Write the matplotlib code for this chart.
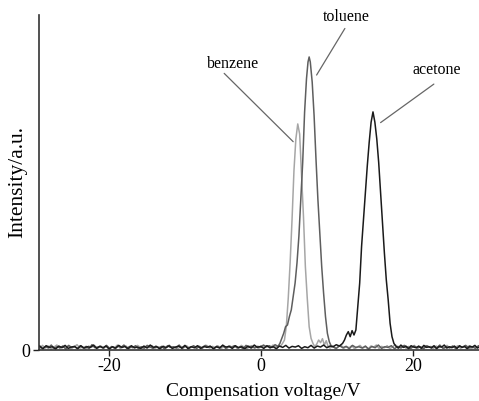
import numpy as np
import matplotlib
matplotlib.use("Agg")
import matplotlib.pyplot as plt

plt.rcParams['font.family'] = ['Liberation Serif', 'DejaVu Serif']

# --- data (compensation voltage in V, intensity in a.u.) ---
# benzene
benzene_base_left = [0.010, 0.004, 0.014, 0.006, 0.012, 0.003, 0.009, 0.015, 0.005, 0.011,
                     0.007, 0.013, 0.004, 0.010, 0.016, 0.006, 0.009, 0.003, 0.012, 0.008,
                     0.014, 0.005, 0.010, 0.006, 0.013, 0.004, 0.011, 0.007, 0.015, 0.005,
                     0.009, 0.012, 0.004, 0.010, 0.006, 0.014, 0.008, 0.003, 0.011, 0.007,
                     0.013, 0.005, 0.010, 0.004, 0.012, 0.008, 0.015, 0.006, 0.009, 0.004,
                     0.011, 0.007, 0.013, 0.005, 0.010, 0.006, 0.012, 0.004, 0.009, 0.014,
                     0.006, 0.011, 0.008, 0.012, 0.005, 0.010, 0.004, 0.013, 0.007, 0.011,
                     0.006, 0.014, 0.009, 0.004, 0.012, 0.007, 0.010, 0.005, 0.013, 0.008,
                     0.011, 0.006, 0.015, 0.009, 0.012]
benzene_peak_x = [2.6, 2.85, 3.1, 3.35, 3.6, 3.85, 4.1, 4.35, 4.6, 4.85,
                  5.1, 5.35, 5.6, 5.85, 6.1, 6.35, 6.6, 6.85, 7.1, 7.35,
                  7.6, 7.85, 8.1, 8.35, 8.6, 8.85]
benzene_peak_y = [0.012, 0.020, 0.030, 0.072, 0.155, 0.262, 0.390, 0.535, 0.630, 0.675,
                  0.645, 0.520, 0.400, 0.250, 0.155, 0.070, 0.035, 0.020, 0.010, 0.018,
                  0.030, 0.022, 0.034, 0.015, 0.028, 0.010]
benzene_base_right = [0.006, 0.012, 0.004, 0.010, 0.015, 0.005, 0.011, 0.007, 0.013, 0.004,
                      0.009, 0.014, 0.006, 0.010, 0.003, 0.012, 0.008, 0.015, 0.005, 0.011,
                      0.007, 0.013, 0.004, 0.010, 0.016, 0.006, 0.009, 0.012, 0.005, 0.011,
                      0.007, 0.014, 0.004, 0.010, 0.006, 0.013, 0.008, 0.011, 0.005, 0.012,
                      0.007, 0.010, 0.004, 0.014, 0.006, 0.011, 0.008, 0.013, 0.005, 0.010,
                      0.007, 0.012, 0.004, 0.011, 0.009, 0.014, 0.006, 0.012]

# toluene
toluene_base_left = [0.008, 0.013, 0.004, 0.011, 0.006, 0.015, 0.005, 0.010, 0.007, 0.012,
                     0.003, 0.014, 0.008, 0.010, 0.005, 0.013, 0.006, 0.011, 0.004, 0.016,
                     0.007, 0.009, 0.012, 0.005, 0.014, 0.006, 0.010, 0.004, 0.012, 0.008,
                     0.015, 0.005, 0.011, 0.007, 0.013, 0.004, 0.010, 0.006, 0.014, 0.009,
                     0.005, 0.012, 0.007, 0.011, 0.003, 0.013, 0.008, 0.010, 0.006, 0.015,
                     0.004, 0.012, 0.007, 0.009, 0.013, 0.005, 0.011, 0.006, 0.014, 0.008,
                     0.010, 0.004, 0.012, 0.007, 0.015, 0.005, 0.011, 0.009, 0.013, 0.006,
                     0.010, 0.004, 0.014, 0.008, 0.012, 0.006, 0.011, 0.009, 0.015, 0.010,
                     0.013, 0.008, 0.016, 0.011]
toluene_peak_x = [2.5, 2.75, 3.0, 3.25, 3.5, 3.75, 4.0, 4.25, 4.5, 4.75,
                  5.0, 5.25, 5.5, 5.75, 6.0, 6.2, 6.35, 6.5, 6.75, 7.0,
                  7.25, 7.5, 7.75, 8.0, 8.25, 8.5, 8.75, 9.0, 9.25]
toluene_peak_y = [0.020, 0.035, 0.050, 0.070, 0.075, 0.100, 0.120, 0.160, 0.200, 0.260,
                  0.340, 0.450, 0.560, 0.710, 0.810, 0.860, 0.875, 0.860, 0.800, 0.700,
                  0.570, 0.450, 0.350, 0.250, 0.170, 0.100, 0.050, 0.025, 0.012]
toluene_base_right = [0.010, 0.005, 0.013, 0.007, 0.011, 0.004, 0.014, 0.008, 0.010, 0.006,
                      0.012, 0.003, 0.011, 0.007, 0.015, 0.005, 0.010, 0.008, 0.013, 0.004,
                      0.011, 0.006, 0.014, 0.009, 0.005, 0.012, 0.007, 0.010, 0.004, 0.013,
                      0.008, 0.011, 0.006, 0.015, 0.005, 0.010, 0.007, 0.012, 0.004, 0.011,
                      0.009, 0.014, 0.006, 0.010, 0.005, 0.013, 0.008, 0.011]

# acetone
acetone_base_left = [0.006, 0.011, 0.004, 0.013, 0.008, 0.010, 0.003, 0.012, 0.007, 0.014,
                     0.005, 0.009, 0.011, 0.004, 0.013, 0.006, 0.010, 0.008, 0.015, 0.005,
                     0.011, 0.007, 0.012, 0.003, 0.010, 0.006, 0.014, 0.008, 0.011, 0.004,
                     0.013, 0.007, 0.009, 0.005, 0.012, 0.006, 0.015, 0.008, 0.010, 0.004,
                     0.011, 0.007, 0.013, 0.005, 0.009, 0.012, 0.006, 0.014, 0.004, 0.010,
                     0.007, 0.013, 0.005, 0.011, 0.008, 0.012, 0.004, 0.010, 0.006, 0.014,
                     0.009, 0.011, 0.005, 0.013, 0.007, 0.010, 0.004, 0.012, 0.006, 0.015,
                     0.008, 0.011, 0.005, 0.013, 0.007, 0.010, 0.004, 0.012, 0.008, 0.014,
                     0.006, 0.011, 0.009, 0.013, 0.005, 0.010, 0.007, 0.014, 0.006, 0.012,
                     0.009, 0.015, 0.007, 0.012, 0.010, 0.016, 0.012, 0.020]
acetone_peak_x = [11.0, 11.25, 11.5, 11.75, 12.0, 12.25, 12.5, 12.75, 13.0, 13.25,
                  13.5, 13.75, 14.0, 14.25, 14.5, 14.75, 15.0, 15.25, 15.5, 15.75,
                  16.0, 16.25, 16.5, 16.75, 17.0, 17.25, 17.5]
acetone_peak_y = [0.030, 0.045, 0.055, 0.040, 0.058, 0.045, 0.060, 0.130, 0.200, 0.310,
                  0.390, 0.470, 0.550, 0.620, 0.680, 0.711, 0.680, 0.630, 0.560, 0.470,
                  0.380, 0.290, 0.210, 0.150, 0.080, 0.040, 0.020]
acetone_base_right = [0.012, 0.006, 0.015, 0.008, 0.011, 0.004, 0.013, 0.009, 0.007, 0.012,
                      0.005, 0.014, 0.008, 0.010, 0.006, 0.013, 0.004, 0.011, 0.009, 0.015,
                      0.006, 0.010, 0.007, 0.012, 0.005, 0.013, 0.008, 0.011, 0.004, 0.012,
                      0.009, 0.014, 0.006, 0.010, 0.007, 0.013]

x_min, x_max = -29.5, 29.5


def build(base_left, left_end, peak_x, peak_y, right_start, base_right):
    x = np.concatenate([np.linspace(x_min, left_end, len(base_left)), peak_x,
                        np.linspace(right_start, x_max, len(base_right))])
    y = np.concatenate([base_left, peak_y, base_right])
    return x, y


bx, by = build(benzene_base_left, 2.35, benzene_peak_x, benzene_peak_y, 9.1, benzene_base_right)
tx, ty = build(toluene_base_left, 2.25, toluene_peak_x, toluene_peak_y, 9.5, toluene_base_right)
ax_, ay = build(acetone_base_left, 10.75, acetone_peak_x, acetone_peak_y, 17.75, acetone_base_right)

fig = plt.figure(figsize=(4.79, 4.01), dpi=100)
ax = fig.add_axes([0.0814, 0.127, 0.9186, 0.8354])

ax.plot(bx, by, color='#a6a6a6', lw=1.1)
ax.plot(tx, ty, color='#5e5e5e', lw=1.1)
ax.plot(ax_, ay, color='#1a1a1a', lw=1.1)

ax.set_xlim(-29.2, 28.7)
ax.set_ylim(0, 1.0)
ax.set_xticks([-20, 0, 20])
ax.set_xticklabels(['-20', '0', '20'])
ax.set_yticks([0])
ax.set_yticklabels(['0'])
ax.tick_params(axis='both', direction='out', length=4, width=1, colors='#222222',
               labelsize=13, labelcolor='black', pad=2)
for side in ['top', 'right']:
    ax.spines[side].set_visible(False)
for side in ['left', 'bottom']:
    ax.spines[side].set_color('#333333')
    ax.spines[side].set_linewidth(1.2)

fig.text(263 / 479, 1 - 392 / 401, 'Compensation voltage/V', ha='center', va='center', fontsize=14)
fig.text(18 / 479, 1 - 182 / 401, 'Intensity/a.u.', ha='center', va='center', rotation=90, fontsize=15.5)

# peak labels with leader lines
labels = [('benzene', (-3.72, 0.854), (-4.83, 0.826), (4.25, 0.622)),
          ('toluene', (11.28, 0.995), (11.05, 0.960), (7.33, 0.821)),
          ('acetone', (23.2, 0.836), (22.76, 0.794), (15.75, 0.679))]
for name, pos, start, end in labels:
    ax.text(pos[0], pos[1], name, ha='center', va='center', fontsize=11.5, clip_on=False)
    ax.annotate('', xy=end, xytext=start,
                arrowprops=dict(arrowstyle='-', color='#666666', lw=0.9, shrinkA=0, shrinkB=0))

fig.savefig('out.png', dpi=100)
